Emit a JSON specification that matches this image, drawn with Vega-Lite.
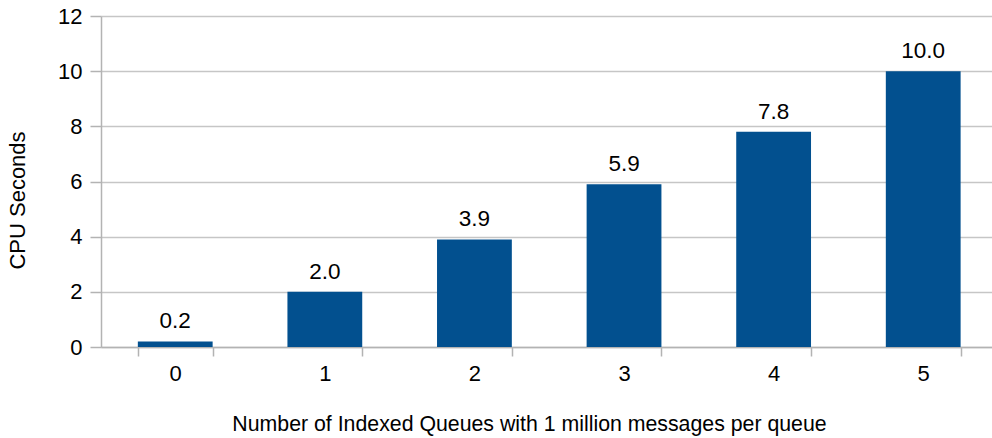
{
  "$schema": "https://vega.github.io/schema/vega-lite/v6.json",
  "width": 891,
  "height": 331,
  "autosize": {"type": "none"},
  "padding": {"left": 101, "top": 16, "right": 0, "bottom": 91},
  "background": "white",
  "config": {
    "view": {"stroke": null},
    "font": "Liberation Sans",
    "axis": {"labelFont": "Liberation Sans", "titleFont": "Liberation Sans", "labelColor": "#000", "titleColor": "#000", "titleFontWeight": "normal", "domainColor": "#b3b3b3", "tickColor": "#b3b3b3", "gridColor": "#c6c6c6", "domainWidth": 1.5, "tickWidth": 1.5, "gridWidth": 1.5}
  },
  "data": {"values": [
    {"queues": "0", "cpu": 0.2},
    {"queues": "1", "cpu": 2.0},
    {"queues": "2", "cpu": 3.9},
    {"queues": "3", "cpu": 5.9},
    {"queues": "4", "cpu": 7.8},
    {"queues": "5", "cpu": 10.0}
  ]},
  "encoding": {
    "x": {"field": "queues", "type": "ordinal", "sort": null,
      "scale": {"paddingInner": 0.5, "paddingOuter": 0.228, "align": 0.54},
      "axis": {"title": "Number of Indexed Queues with 1 million messages per queue", "labelAngle": 0, "tickBand": "extent", "tickSize": 9, "labelFontSize": 22, "titleFontSize": 21.3, "titleX": 428, "labelPadding": 7, "titlePadding": 29, "grid": false}},
    "y": {"field": "cpu", "type": "quantitative",
      "scale": {"domain": [0, 12]},
      "axis": {"title": "CPU Seconds", "values": [0, 2, 4, 6, 8, 10, 12], "tickSize": 11, "labelFontSize": 22, "titleFontSize": 22, "titleY": 184, "labelPadding": 8, "titlePadding": 28, "grid": true}}
  },
  "layer": [
    {"mark": {"type": "bar", "color": "#02508f"}},
    {"mark": {"type": "text", "baseline": "alphabetic", "dy": -13, "fontSize": 22.5, "font": "Liberation Sans", "color": "#000"},
     "encoding": {"text": {"field": "cpu", "type": "quantitative", "format": ".1f"}}}
  ]
}
